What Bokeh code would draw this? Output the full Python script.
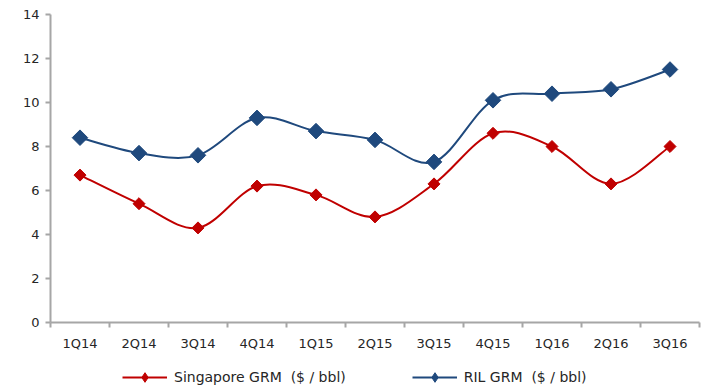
import math
from bokeh.plotting import figure
from bokeh.layouts import column
from bokeh.models import FixedTicker, Legend, LegendItem, ColumnDataSource, Range1d
from bokeh.embed import file_html
from bokeh.resources import INLINE

quarters = ["1Q14", "2Q14", "3Q14", "4Q14", "1Q15", "2Q15", "3Q15", "4Q15", "1Q16", "2Q16", "3Q16"]
singapore_grm = [6.7, 5.4, 4.3, 6.2, 5.8, 4.8, 6.3, 8.6, 8.0, 6.3, 8.0]
ril_grm = [8.4, 7.7, 7.6, 9.3, 8.7, 8.3, 7.3, 10.1, 10.4, 10.6, 11.5]
y_ticks = [0, 2, 4, 6, 8, 10, 12, 14]
series_names = ["Singapore GRM  ($ / bbl)", "RIL GRM  ($ / bbl)"]

RED = "#C00000"
BLUE = "#1F497D"
AXIS = "#A6A6A6"
FONT = "DejaVu Sans"
TXT = "#262626"

xs = list(range(len(quarters)))

p = figure(width=707, height=358, output_backend="svg", toolbar_location=None,
           x_range=Range1d(-0.5, len(quarters) - 0.5), y_range=Range1d(0, 14),
           min_border_left=50, min_border_right=8, min_border_top=14, min_border_bottom=36)
p.outline_line_color = None
p.grid.visible = False
p.background_fill_color = "white"
p.border_fill_color = "white"


def smooth_source(x, y):
    n = len(x)
    d = dict(x0=[], y0=[], x1=[], y1=[], cx0=[], cy0=[], cx1=[], cy1=[])
    for i in range(n - 1):
        xm, ym = (x[i - 1], y[i - 1]) if i > 0 else (x[i], y[i])
        xp, yp = (x[i + 2], y[i + 2]) if i + 2 < n else (x[i + 1], y[i + 1])
        d["x0"].append(x[i]); d["y0"].append(y[i])
        d["x1"].append(x[i + 1]); d["y1"].append(y[i + 1])
        d["cx0"].append(x[i] + (x[i + 1] - xm) / 6.0)
        d["cy0"].append(y[i] + (y[i + 1] - ym) / 6.0)
        d["cx1"].append(x[i + 1] - (xp - x[i]) / 6.0)
        d["cy1"].append(y[i + 1] - (yp - y[i]) / 6.0)
    return ColumnDataSource(d)


# legend figure
lf = figure(width=707, height=33, output_backend="svg", toolbar_location=None,
            x_range=Range1d(0, 1), y_range=Range1d(0, 1),
            x_axis_location=None, y_axis_location=None,
            min_border=0, min_border_left=0, min_border_right=0,
            min_border_top=0, min_border_bottom=0)
lf.outline_line_color = None
lf.grid.visible = False
lf.border_fill_color = "white"

items = []
for vals, color, name, size in [(singapore_grm, RED, series_names[0], 8.5),
                                (ril_grm, BLUE, series_names[1], 11)]:
    p.bezier(x0="x0", y0="y0", x1="x1", y1="y1", cx0="cx0", cy0="cy0", cx1="cx1", cy1="cy1",
             source=smooth_source(xs, vals), line_color=color, line_width=2)
    p.scatter(xs, vals, marker="square", angle=math.pi / 4, size=size,
              fill_color=color, line_color=color)
    lr = lf.line([-10, -9], [-10, -9], line_color=color, line_width=2)
    sr = lf.scatter([-10], [-10], marker="diamond", size=size,
                    fill_color=color, line_color=color)
    items.append(LegendItem(label=name, renderers=[lr, sr]))

legend = Legend(items=items, orientation="horizontal", location=(72, 2),
                border_line_color=None, background_fill_alpha=0,
                label_text_font=FONT, label_text_font_size="14px", label_text_color=TXT,
                glyph_width=45, glyph_height=24, spacing=66, padding=0, margin=0,
                label_standoff=7)
lf.add_layout(legend, "center")

# x axis
xa = p.xaxis[0]
xa.ticker = FixedTicker(ticks=xs, minor_ticks=[i - 0.5 for i in range(len(quarters) + 1)])
xa.major_label_overrides = {i: q for i, q in enumerate(quarters)}
xa.major_tick_line_color = None
xa.minor_tick_line_color = AXIS
xa.minor_tick_in = 0
xa.minor_tick_out = 5
xa.axis_line_color = AXIS
xa.axis_line_width = 2
xa.minor_tick_line_width = 2
xa.major_label_text_font = FONT
xa.major_label_text_font_size = "13px"
xa.major_label_text_color = TXT
xa.major_label_standoff = 7

ya = p.yaxis[0]
ya.ticker = FixedTicker(ticks=y_ticks, minor_ticks=[])
ya.axis_line_color = AXIS
ya.axis_line_width = 2
ya.major_tick_line_color = AXIS
ya.major_tick_line_width = 2
ya.major_tick_in = 0
ya.major_tick_out = 5
ya.major_label_text_font = FONT
ya.major_label_text_font_size = "13px"
ya.major_label_text_color = TXT
ya.major_label_standoff = 6

layout = column(p, lf, spacing=0)
open("out.html", "w").write(file_html(layout, INLINE))
